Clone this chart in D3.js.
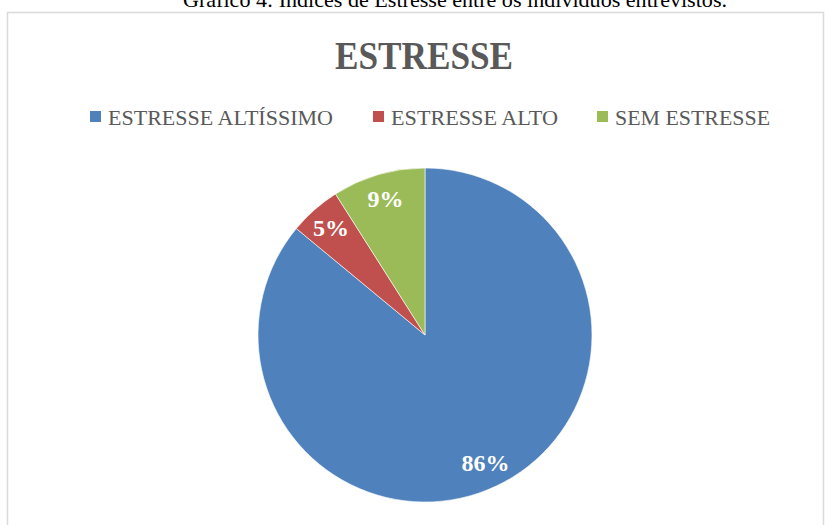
<html>
<script src='https://d3js.org/d3.v7.min.js'></script>
<style>
body { margin:0; background:#fff; }
</style>
<body>
<svg width=825 height=525></svg>
<script>
// data
const categories = ["ESTRESSE ALTÍSSIMO", "ESTRESSE ALTO", "SEM ESTRESSE"];
const values = [86, 5, 9];
const colors = ["#4F81BD", "#C0504D", "#9BBB59"];
const legendWidths = [225, 167, 155];

const svg = d3.select("svg");

// caption cut off at the top of the page
svg.append("text")
.attr("x", 455).attr("y", 7)
.attr("text-anchor", "middle")
.attr("font-family", "Liberation Serif")
.attr("font-size", "22px")
.attr("textLength", 544)
.attr("lengthAdjust", "spacingAndGlyphs")
.attr("fill", "#000")
.text("Gráfico 4: Índices de Estresse entre os indivíduos entrevistos.");

// chart area border
svg.append("rect")
.attr("x", 7.5).attr("y", 12.5)
.attr("width", 816).attr("height", 530)
.attr("fill", "none")
.attr("stroke", "#d9d9d9")
.attr("stroke-width", 1.5);

// title
svg.append("text")
.attr("x", 424).attr("y", 69)
.attr("text-anchor", "middle")
.attr("font-family", "Liberation Serif")
.attr("font-weight", "bold")
.attr("font-size", "40px")
.attr("textLength", 178)
.attr("lengthAdjust", "spacingAndGlyphs")
.attr("fill", "#595959")
.text("ESTRESSE");

// legend
const legX = [90, 373, 597];
const leg = svg.append("g");
categories.forEach(function(c, i) {
  leg.append("rect")
  .attr("x", legX[i]).attr("y", 111)
  .attr("width", 11).attr("height", 11)
  .attr("fill", colors[i]);
  leg.append("text")
  .attr("x", legX[i] + 18).attr("y", 125)
  .attr("font-family", "Liberation Serif")
  .attr("font-size", "22px")
  .attr("textLength", legendWidths[i])
  .attr("lengthAdjust", "spacingAndGlyphs")
  .attr("fill", "#595959")
  .text(c);
});

// pie
const cx = 425, cy = 335, r = 167;
const pie = d3.pie().sort(null).value(function(d) { return d; });
const arc = d3.arc().innerRadius(0).outerRadius(r);
const labelArc = d3.arc().innerRadius(142).outerRadius(142);

const g = svg.append("g").attr("transform", "translate(" + cx + "," + cy + ")");
const arcs = pie(values);

g.selectAll("path")
.data(arcs).enter()
.append("path")
.attr("d", arc)
.attr("fill", function(d, i) { return colors[i]; })
.attr("stroke", "#fff")
.attr("stroke-width", 0.6);

g.selectAll("text")
.data(arcs).enter()
.append("text")
.attr("x", function(d) { return labelArc.centroid(d)[0]; })
.attr("y", function(d) { return labelArc.centroid(d)[1] + 8; })
.attr("text-anchor", "middle")
.attr("font-family", "Liberation Serif")
.attr("font-weight", "bold")
.attr("font-size", "24px")
.attr("fill", "#fff")
.text(function(d) { return d.data + "%"; });
</script>
</body>
</html>
